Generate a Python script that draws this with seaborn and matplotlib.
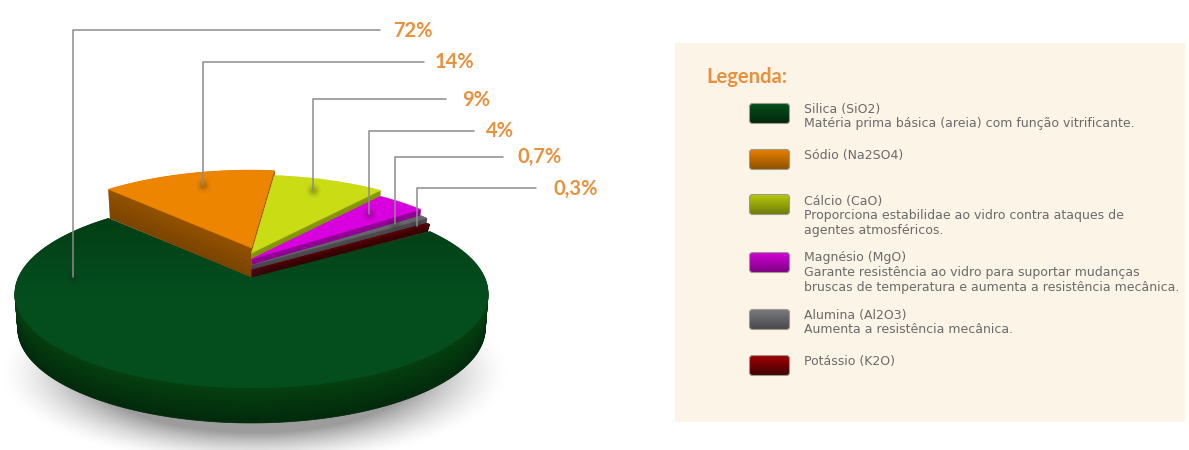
import numpy as np
import matplotlib
matplotlib.use("Agg")
import matplotlib.pyplot as plt
from matplotlib.colors import to_rgb
from matplotlib.patches import Polygon, Rectangle, FancyBboxPatch
import seaborn as sns

# ---------- data ----------
components = ["Silica (SiO2)", "Sódio (Na2SO4)", "Cálcio (CaO)", "Magnésio (MgO)", "Alumina (Al2O3)", "Potássio (K2O)"]
values = [72, 14, 9, 4, 0.7, 0.3]
value_labels = ["72%", "14%", "9%", "4%", "0,7%", "0,3%"]
descriptions = [
    "Matéria prima básica (areia) com função vitrificante.",
    "",
    "Proporciona estabilidae ao vidro contra ataques de\nagentes atmosféricos.",
    "Garante resistência ao vidro para suportar mudanças\nbruscas de temperatura e aumenta a resistência mecânica.",
    "Aumenta a resistência mecânica.",
    "",
]

# ---------- styles and layout (pixels) ----------
top_colors = ["#044e1e", "#ee8500", "#c9dc14", "#d800de", "#66666a", "#5c0004"]
wall_top = ["#05400f", "#945200", "#8a9a08", "#96009a", "#4e4e52", "#4a0003"]
wall_bottom = ["#022a0c", "#7a4400", "#6b7a06", "#7b007f", "#3c3c40", "#300002"]
swatch_top = ["#04501c", "#e88000", "#b8ca0a", "#d400d8", "#7a7b7e", "#a40005"]
swatch_bottom = ["#02250b", "#8e5000", "#6b7a0a", "#7b007f", "#48484c", "#3c0003"]
lifts = [0, 29, 24, 18, 12, 7]
depths = [35, 29, 24, 18, 12, 7]
leader_xs = [[73, 73, 380], [203, 203, 424], [313, 313, 446], [369, 369, 474], [395, 395, 503], [417, 417, 536]]
leader_ys = [[277, 30, 30], [185, 62, 62], [190, 99, 99], [214, 131, 131], [224, 157, 157], [226, 188, 188]]
label_x = [393, 435, 462, 486, 517, 554]
label_y = [31, 62, 100, 131, 157, 189]
swatch_y = [103, 149, 194, 252, 309, 355]
title_y = [109, 155, 201, 258, 315, 361]
desc_y = [117, 0, 209, 266, 323, 0]

sns.set_theme(style="white")
palette = sns.color_palette(top_colors)

fig, ax = plt.subplots(figsize=(11.89, 4.5), dpi=100)
fig.subplots_adjust(0, 0, 1, 1)
ax.set_axis_off()

CX, CY = 251.5, 277
K, A, B = 0.1746, 233, 91.6


def project(u, v, dz=0.0, depth=35.0):
    w = 1 + K * v
    shrink = 1 - 0.012 * dz / max(depth, 1)
    return CX + shrink * A * u / w, CY - B * v / w + dz


def slice_xy(a0, a1, lift=0.0, dz=0.0, depth=35.0):
    t = np.radians(np.linspace(a0, a1, max(int(abs(a1 - a0) * 2), 6)))
    u = np.r_[0.0, np.cos(t)]
    v = np.r_[0.0, np.sin(t)]
    x, y = project(u, v, dz, depth)
    return np.c_[x, y - lift]


# shadow
yy, xx = np.mgrid[0:450, 0:560]
d = np.sqrt(((xx - 254) / 256.0) ** 2 + ((yy - 372) / 94.0) ** 2)
alpha = 0.62 * np.clip((1.0 - d) / 0.36, 0, 1) ** 1.6
shadow = np.zeros((450, 560, 4))
shadow[..., :3] = 0.38
shadow[..., 3] = alpha
ax.imshow(shadow, extent=(0, 560, 450, 0), aspect="auto", zorder=1, interpolation="bilinear")

# panel
ax.add_patch(Rectangle((675, 43), 510, 379, color="#fdf4e8", lw=0, zorder=1))

# slice angles from the values (counter-clockwise from the smallest one)
start = 33.0
angles = {}
a = start
for i in range(len(values) - 1, -1, -1):
    sweep = values[i] / sum(values) * 360
    angles[i] = (a, a + sweep)
    a += sweep

z = 2.0
for i in range(len(values)):
    a0, a1 = angles[i]
    w_t, w_b = np.array(to_rgb(wall_top[i])), np.array(to_rgb(wall_bottom[i]))
    depth = depths[i]
    for dz in np.arange(depth, 0, -0.75):
        f = dz / depth
        col = w_t * (1 - f) + w_b * f
        ax.add_patch(Polygon(slice_xy(a0, a1, lifts[i], dz, depth), closed=True, fc=col, ec=col, lw=0.5, zorder=z))
        z += 0.001
    face = Polygon(slice_xy(a0, a1, lifts[i], 0, depth), closed=True, fc=palette[i], ec=palette[i], lw=0.3, zorder=z)
    ax.add_patch(face)
    z += 0.01
    if i == 0:
        # the top of the big slice darkens towards the back
        g = np.linspace(0, 1, 64)[:, None]
        tint = np.zeros((64, 1, 4))
        tint[..., 1] = 0.1
        tint[..., 3] = 0.42 * (1 - g) ** 1.2
        tm = ax.imshow(tint, extent=(0, 500, 300, 195), aspect="auto", zorder=z)
        tm.set_clip_path(face)
        z += 0.01

# anchor spots and leader lines
for i in range(len(values)):
    for s, al in zip([110, 50, 18], [0.06, 0.09, 0.12]):
        sns.scatterplot(x=[leader_xs[i][0]], y=[leader_ys[i][0]], s=s, color="#222222", alpha=al,
                        linewidth=0, ax=ax, zorder=20, legend=False)
    sns.lineplot(x=leader_xs[i], y=leader_ys[i], sort=False, estimator=None, color="#8c8c8c", lw=1.1,
                 ax=ax, zorder=21, legend=False)
    ax.text(label_x[i], label_y[i], value_labels[i], family="Lato", fontsize=14.5, fontweight="bold", color="#e8913c",
            va="center", ha="left", zorder=22)

# legend
ax.text(706, 77, "Legenda:", family="Lato", fontsize=14.5, fontweight="bold", color="#e8913c", va="center", ha="left", zorder=5)
body = dict(family="DejaVu Sans", fontsize=9, color="#6a6a6a", ha="left", zorder=5)
for i, name in enumerate(components):
    grad = np.linspace(0, 1, 32)[:, None, None]
    img = np.array(to_rgb(swatch_top[i]))[None, None, :] * (1 - grad) + np.array(to_rgb(swatch_bottom[i]))[None, None, :] * grad
    box = FancyBboxPatch((749.5, swatch_y[i] + 0.5), 40, 20, boxstyle="round,pad=0,rounding_size=3", fc="none",
                         ec="#9a9a8e", lw=0.8, zorder=6)
    ax.add_patch(box)
    im = ax.imshow(img, extent=(749, 790, swatch_y[i] + 21, swatch_y[i]), aspect="auto", zorder=5)
    im.set_clip_path(box)
    ax.text(804, title_y[i], name, va="center", **body)
    if descriptions[i]:
        ax.text(804, desc_y[i], descriptions[i], va="top", linespacing=1.2, **body)
ax.set_xlim(0, 1189)
ax.set_ylim(450, 0)

fig.savefig("out.png", dpi=100, facecolor="white")
